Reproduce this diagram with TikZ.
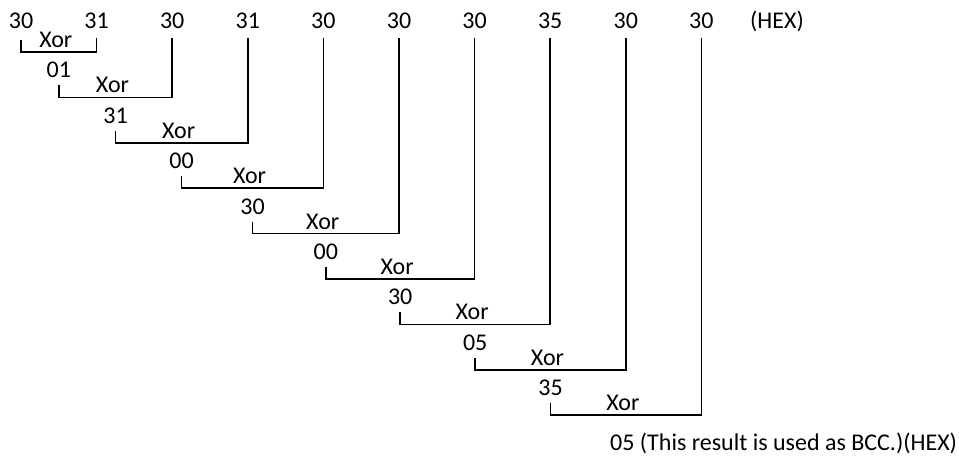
\documentclass[tikz,border=0pt]{standalone}
\usepackage{fontspec}
\setmainfont{Carlito}
\usepackage{tikz}
\usetikzlibrary{positioning, calc}

\begin{document}
\begin{tikzpicture}[x=1pt,y=-1pt,
  num/.style={anchor=base, inner sep=3pt},
  xorlbl/.style={anchor=base, inner sep=0pt},
  bracket/.style={line width=1.6pt, line join=miter}]
\fontsize{24}{28}\selectfont
\useasboundingbox (0,0) rectangle (959,457);

% --- TOP ROW ---
\foreach \i/\val in {0/30,1/31,2/30,3/31,4/30,5/30,6/30,7/35,8/30,9/30} {
  \node[num] (c\i) at (21+75.6*\i,29) {\val};
}
\node[num] (hex) at (777,29) {(HEX)};

% --- XOR STAGES ---
\foreach \k/\j/\xl/\res in {0/1/21/01,1/2/58.8/31,2/3/115.5/00,3/4/181.65/30,
                            4/5/252.5/00,5/6/325.8/30,6/7/400.2/05,7/8/475.2/35,
                            8/9/550.5/05} {
  \pgfmathsetmacro\ly{52+45.4*\k}
  \pgfmathsetmacro\mx{(\xl+21+75.6*\j)/2}
  \coordinate (t\k) at (\xl,\ly-12);
  \coordinate (b\k) at (\xl,\ly);
  \draw[bracket] (t\k) -- (b\k) -| ([yshift=-6pt]c\j.south);
  \node[xorlbl] (x\k) at (\mx-3,\ly-4.5) {Xor};
  \ifnum\k<8
    \node[num] (r\k) at (\mx,\ly+26) {\res};
  \fi
}

% --- RESULT ---
\node[num, anchor=base west, inner sep=0pt] (bcc) at (610,450)
  {05 (This result is used as BCC.)(HEX)};
\end{tikzpicture}
\end{document}
